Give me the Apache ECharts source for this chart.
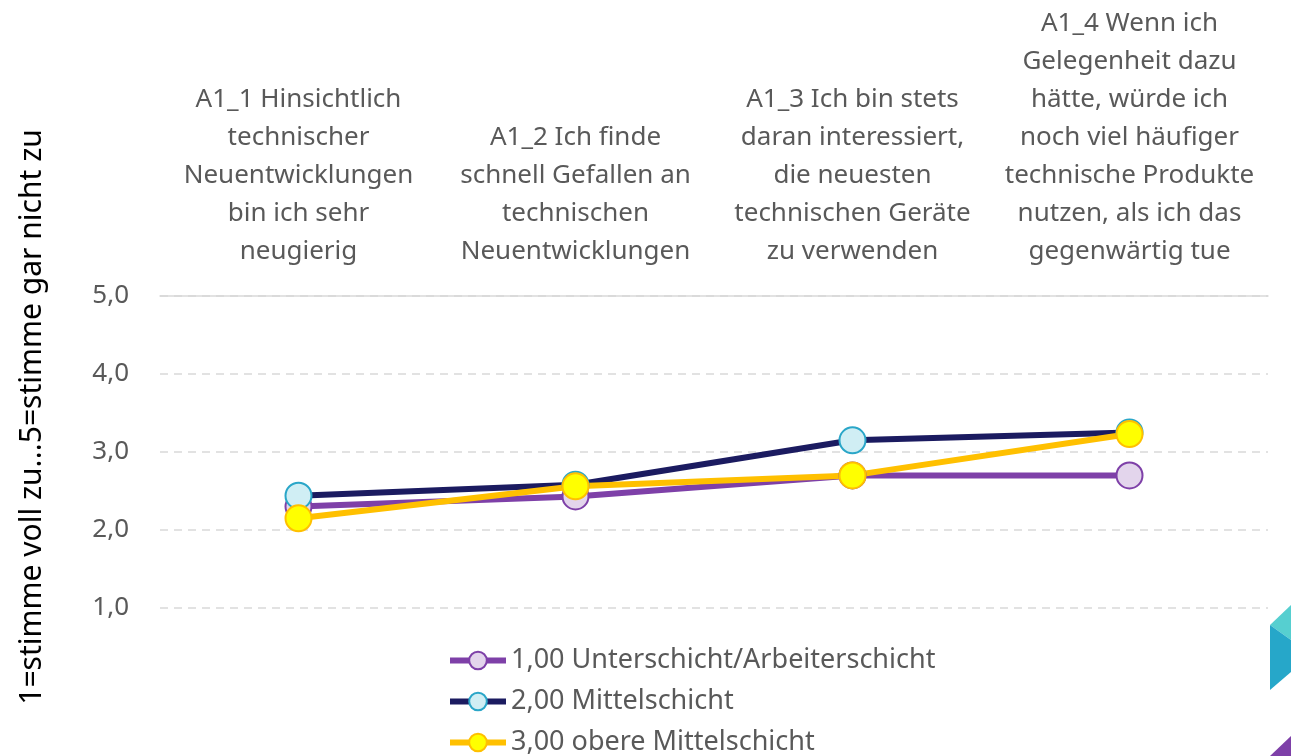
<!DOCTYPE html>
<html>
<head>
<meta charset="utf-8">
<script src="https://cdn.jsdelivr.net/npm/echarts@6/dist/echarts.min.js"></script>
<style>
  html, body { margin: 0; padding: 0; background: #fff; }
  #main { width: 1291px; height: 756px; }
</style>
</head>
<body>
<div id="main"></div>
<script>
// categories (items of the A1 scale)
const categories = [
  'A1_1 Hinsichtlich\ntechnischer\nNeuentwicklungen\nbin ich sehr\nneugierig',
  'A1_2 Ich finde\nschnell Gefallen an\ntechnischen\nNeuentwicklungen',
  'A1_3 Ich bin stets\ndaran interessiert,\ndie neuesten\ntechnischen Geräte\nzu verwenden',
  'A1_4 Wenn ich\nGelegenheit dazu\nhätte, würde ich\nnoch viel häufiger\ntechnische Produkte\nnutzen, als ich das\ngegenwärtig tue'
];
const seriesNames = [
  '1,00 Unterschicht/Arbeiterschicht',
  '2,00 Mittelschicht',
  '3,00 obere Mittelschicht'
];
const unterschicht = [2.30, 2.43, 2.70, 2.70];
const mittelschicht = [2.44, 2.58, 3.15, 3.25];
const obereMittelschicht = [2.15, 2.56, 2.70, 3.23];
const yTicks = [1, 2, 3, 4, 5];
const yAxisTitle = '1=stimme voll zu...5=stimme gar nicht zu';

const font = 'Noto Sans';
const grey = '#595959';

function lineSeries(name, data, lineColor, fill, border) {
  return {
    name: name,
    type: 'line',
    data: data,
    symbol: 'circle',
    symbolSize: 26,
    lineStyle: { color: lineColor, width: 6 },
    itemStyle: { color: fill, borderColor: border, borderWidth: 2 },
    emphasis: { disabled: true }
  };
}

let myChart = echarts.init(document.getElementById('main'));
myChart.setOption({
  animation: false,
  grid: { left: 160, right: 23, top: 296, bottom: 148 },
  xAxis: {
    type: 'category',
    position: 'top',
    data: categories,
    axisLine: { lineStyle: { color: '#D9D9D9', width: 1.5 } },
    axisTick: { show: false },
    axisLabel: {
      interval: 0,
      margin: 25,
      color: grey,
      fontFamily: font,
      fontSize: 26,
      lineHeight: 38
    }
  },
  yAxis: {
    type: 'value',
    min: yTicks[0],
    max: yTicks[yTicks.length - 1],
    interval: 1,
    axisLine: { show: false },
    axisTick: { show: false },
    axisLabel: {
      margin: 31,
      color: grey,
      fontFamily: font,
      fontSize: 26,
      formatter: v => v.toFixed(1).replace('.', ',')
    },
    splitLine: { lineStyle: { color: '#D9D9D9', type: [8, 6], width: 1.5 } }
  },
  legend: {
    orient: 'vertical',
    left: 447,
    top: 646,
    height: 120,
    padding: 0,
    itemGap: 12,
    itemWidth: 56,
    itemHeight: 22,
    data: seriesNames,
    lineStyle: { width: 6 },
    textStyle: { color: grey, fontFamily: font, fontSize: 27, lineHeight: 29 }
  },
  graphic: [
    {
      type: 'text',
      x: 32,
      y: 417,
      rotation: Math.PI / 2,
      style: {
        text: yAxisTitle,
        fill: '#000',
        font: '30px "Noto Sans"',
        textAlign: 'center',
        textVerticalAlign: 'middle'
      }
    },
    // decorative theme shapes at the right edge
    { type: 'polygon', shape: { points: [[1270, 625], [1291, 605], [1291, 640]] }, style: { fill: '#56CFD0' } },
    { type: 'polygon', shape: { points: [[1270, 625], [1291, 640], [1291, 672], [1270, 690]] }, style: { fill: '#26A7C9' } },
    { type: 'polygon', shape: { points: [[1270, 756], [1291, 736], [1291, 756]] }, style: { fill: '#7E40A8' } }
  ],
  series: [
    lineSeries(seriesNames[0], unterschicht, '#7E40A8', '#E3D5EC', '#7E40A8'),
    lineSeries(seriesNames[1], mittelschicht, '#1B1B60', '#D0EEF4', '#2AA6C8'),
    lineSeries(seriesNames[2], obereMittelschicht, '#FFC000', '#FFFF00', '#FFC000')
  ]
});
</script>
</body>
</html>
